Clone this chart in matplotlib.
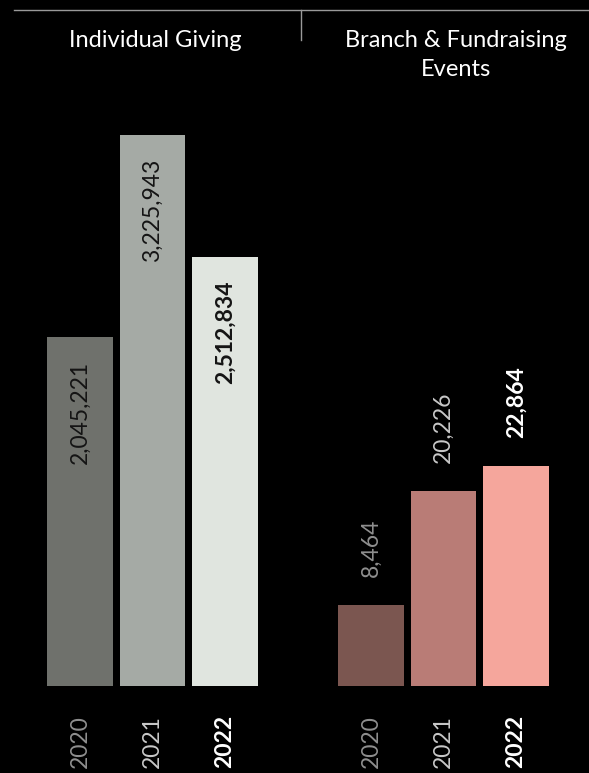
import matplotlib.pyplot as plt
from matplotlib.lines import Line2D

plt.rcParams['font.family'] = ['Lato', 'DejaVu Sans']

years = ['2020', '2021', '2022']
individual = [2045221, 3225943, 2512834]
branch = [8464, 20226, 22864]

grey_bars = ['#6f716c', '#a5aaa5', '#e0e5df']
pink_bars = ['#7b5650', '#b97c76', '#f5a69c']
year_colors = ['#8f8f8f', '#c8c8c8', '#ffffff']

W, H = 589, 773
fig = plt.figure(figsize=(W / 100, H / 100), dpi=100, facecolor='black')

def px(x0, y0, w, h):
    # pixel box (top-left origin) -> figure fraction
    return [x0 / W, 1 - (y0 + h) / H, w / W, h / H]

ax1 = fig.add_axes(px(43.75, 135, 217.5, 551))
ax2 = fig.add_axes(px(334.75, 135, 217.5, 551))

for ax in (ax1, ax2):
    ax.set_facecolor('black')
    ax.set_xlim(-0.5, 2.5)
    ax.axis('off')

xs = range(len(years))
fs = 16.5

# Individual giving: values inside the bars
ax1.set_ylim(0, individual[1])
ax1.bar(xs, individual, width=0.91, color=grey_bars)
for i, v in enumerate(individual):
    ax1.annotate(f'{v:,}', (i, v), xytext=(0, -24), textcoords='offset pixels',
                 rotation=90, ha='center', va='top', fontsize=fs,
                 color='#141414',
                 fontweight='bold' if i == 2 else 'normal')

# Branch & fundraising: values above the bars
ax2.set_ylim(0, branch[2] * 551 / 220)
ax2.bar(xs, branch, width=0.91, color=pink_bars)
for i, v in enumerate(branch):
    ax2.annotate(f'{v:,}', (i, v), xytext=(0, 28), textcoords='offset pixels',
                 rotation=90, ha='center', va='bottom', fontsize=fs,
                 color=year_colors[i],
                 fontweight='bold' if i == 2 else 'normal')

# year labels under the bars
for ax in (ax1, ax2):
    for i, y in enumerate(years):
        ax.annotate(y, (i, 0), xytext=(0, -29), textcoords='offset pixels',
                    rotation=90, ha='center', va='top', fontsize=fs,
                    color=year_colors[i], annotation_clip=False,
                    fontweight='bold' if i == 2 else 'normal')

# header rules
fig.add_artist(Line2D([14 / W, 1], [1 - 10 / H] * 2, color='#9a9a9a', lw=1))
fig.add_artist(Line2D([301 / W] * 2, [1 - 10 / H, 1 - 40 / H], color='#9a9a9a', lw=1))

fig.text(155 / W, 1 - 47 / H, 'Individual Giving', ha='baseline' if False else 'center',
         va='baseline', color='white', fontsize=17)
fig.text(456 / W, 1 - 47 / H, 'Branch & Fundraising', ha='center',
         va='baseline', color='white', fontsize=17)
fig.text(456 / W, 1 - 76 / H, 'Events', ha='center',
         va='baseline', color='white', fontsize=17)

fig.savefig('out.png', dpi=100, facecolor='black')
